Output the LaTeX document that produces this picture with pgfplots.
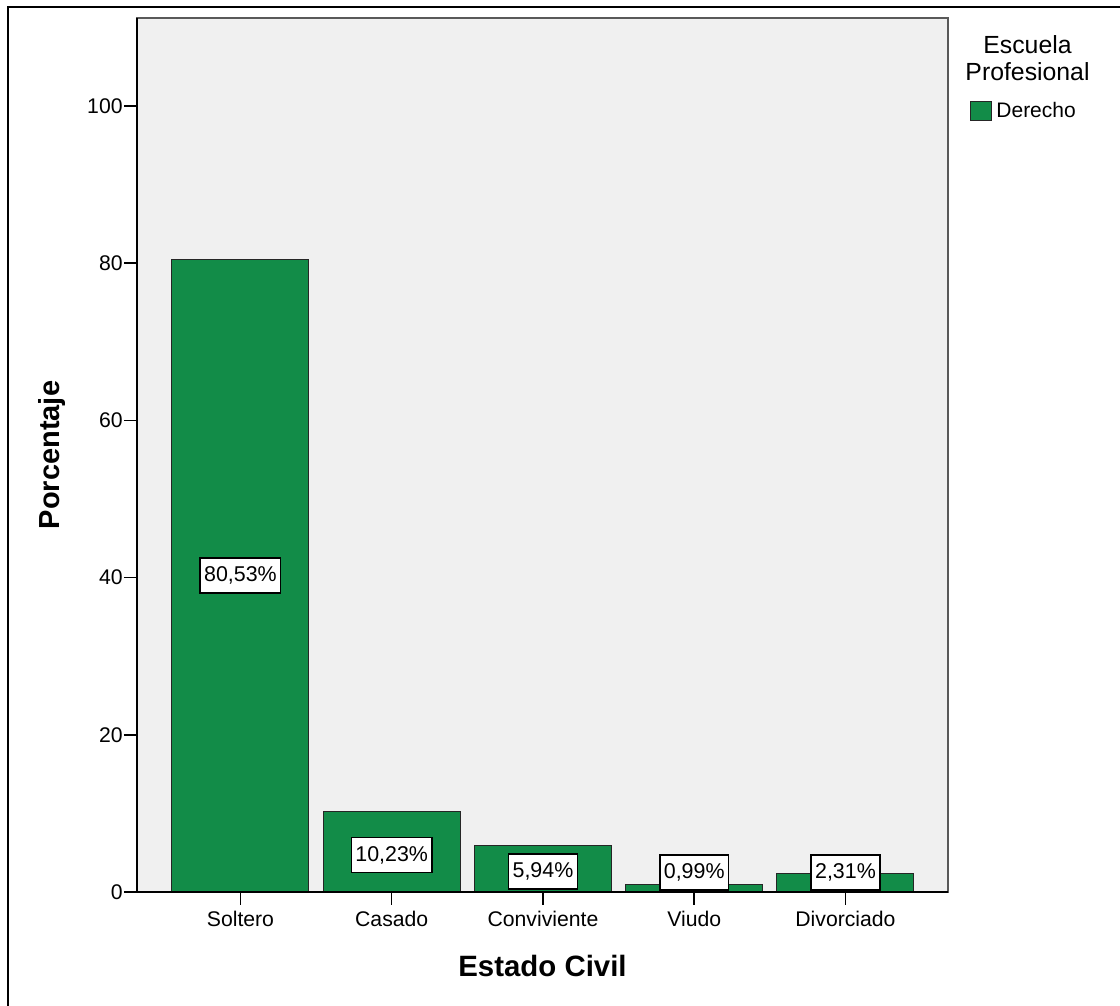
\documentclass[border=0pt]{standalone}
\usepackage{pgfplots}
\pgfplotsset{compat=1.18}
\usepackage{pgfplotstable}
\usepackage{fontspec}
\setmainfont{Liberation Sans}
\definecolor{barg}{RGB}{18,140,72}
\definecolor{bg}{RGB}{240,240,240}
\pgfplotstableread{
x v ly
0 80.53 40.27
1 10.23 4.7
2 5.94 2.6
3 0.99 2.5
4 2.31 2.5
}\datatab
\begin{document}
\begin{tikzpicture}[x=1pt,y=1pt]
\path[use as bounding box] (0,0) rectangle (560,503);
\draw[line width=0.8pt] (4,0) -- (4,499.5) -- (560,499.5);
\begin{axis}[
  at={(68.5pt,57pt)}, anchor=south west,
  scale only axis, width=405.5pt, height=437pt,
  xmin=-0.684, xmax=4.678, ymin=0, ymax=111.2,
  axis background/.style={fill=bg},
  axis line style={draw=black!65, line width=1pt},
  xtick={0,1,2,3,4},
  xticklabels={Soltero,Casado,Conviviente,Viudo,Divorciado},
  ytick={0,20,40,60,80,100},
  tick align=outside, xtick pos=bottom, ytick pos=left,
  major tick length=6.5pt,
  tick style={black, line width=0.75pt},
  ticklabel style={font=\fontsize{10.6}{12}\selectfont},
  yticklabel style={inner xsep=0.5pt},
  xticklabel style={inner ysep=3pt},
  /pgf/number format/assume math mode=true,
  every axis y label/.style={at={(rel axis cs:0,0.5)}, xshift=-42.5pt, rotate=90, anchor=center, font=\bfseries\fontsize{14.5}{16}\selectfont},
  every axis x label/.style={at={(rel axis cs:0.5,0)}, yshift=-37pt, anchor=center, font=\bfseries\fontsize{14.7}{16}\selectfont},
  ylabel={Porcentaje}, xlabel={Estado Civil},
  legend style={at={(rel axis cs:1,1)}, anchor=north west, xshift=11pt, yshift=-40pt, draw=none, fill=none, inner sep=0pt, font=\fontsize{10.5}{12}\selectfont, cells={anchor=west}},
  legend image code/.code={\draw[#1] (0pt,-4.75pt) rectangle (10.5pt,4.75pt);},
  after end axis/.code={
    \draw[black, line width=1pt] (rel axis cs:0,1) -- (rel axis cs:0,0) -- (rel axis cs:1,0);
    \node[align=center, anchor=north, inner sep=0pt, font=\fontsize{12.4}{13.5}\selectfont] at (rel axis cs:1,1) [xshift=39.75pt, yshift=-8.7pt] {Escuela\\Profesional};
  },
]
\addplot[ybar, bar shift=0pt, bar width=68.5pt, fill=barg, draw=black!85, line width=0.5pt] table[x=x, y=v] {\datatab};
\addlegendentry{Derecho}
\addplot[draw=none, forget plot, point meta=explicit,
  nodes near coords={\pgfmathprintnumber[fixed,fixed zerofill,precision=2,use comma]{\pgfplotspointmeta}\%},
  every node near coord/.append style={anchor=center, draw=black, line width=0.75pt, fill=white, inner xsep=2pt, inner ysep=0pt, minimum height=17.5pt, font=\fontsize{10.7}{12}\selectfont}
  ] table[x=x, y=ly, meta=v] {\datatab};
\end{axis}
\end{tikzpicture}
\end{document}
